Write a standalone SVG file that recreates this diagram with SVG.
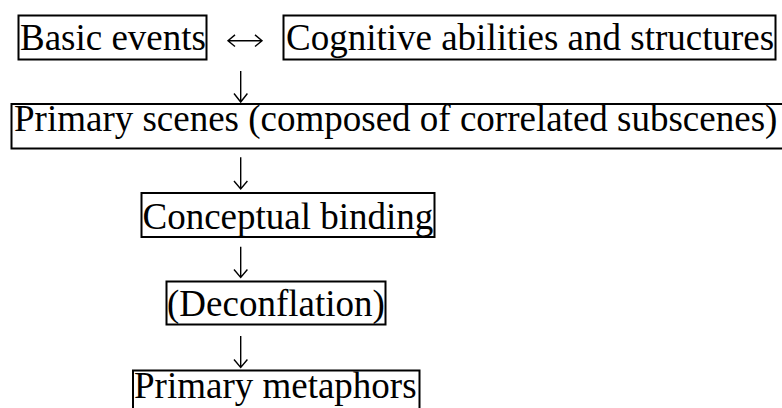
<svg xmlns="http://www.w3.org/2000/svg" width="782" height="408" viewBox="0 0 782 408">
<style>
.box{fill:none;stroke:#000;stroke-width:2}
.lbl{font-family:"Liberation Serif","Times New Roman",serif;font-size:37px;fill:#000}
.conn{fill:none;stroke:#000;stroke-width:1.4;stroke-linecap:butt;stroke-linejoin:miter}
</style>
<rect width="782" height="408" fill="#fff"/>
<g id="node-basic-events">
<rect class="box" x="18.5" y="15.5" width="188" height="44"/>
<text class="lbl" x="20" y="49.5">Basic events</text>
</g>
<g id="node-cognitive">
<rect class="box" x="283.5" y="15.5" width="492" height="44"/>
<text class="lbl" x="286" y="49.5">Cognitive abilities and structures</text>
</g>
<g id="node-primary-scenes">
<rect class="box" x="11.5" y="104" width="790" height="44.5"/>
<text class="lbl" x="14" y="131">Primary scenes (composed of correlated subscenes)</text>
</g>
<g id="node-conceptual-binding">
<rect class="box" x="141.5" y="193" width="293" height="44"/>
<text class="lbl" x="142.5" y="228.5">Conceptual binding</text>
</g>
<g id="node-deconflation">
<rect class="box" x="166.5" y="281.5" width="219" height="43"/>
<text class="lbl" x="167" y="315.5">(Deconflation)</text>
</g>
<g id="node-primary-metaphors">
<rect class="box" x="133" y="370.5" width="286.5" height="50"/>
<text class="lbl" x="134" y="398">Primary metaphors</text>
</g>
<g id="connectors">
<path class="conn" d="M228 40.7H262M235 34.9L228 40.7L235 46.5M255 34.9L262 40.7L255 46.5"/>
<path class="conn" d="M240.7 71V102M234 93.5L240.7 102L247.4 93.5"/>
<path class="conn" d="M240.7 157.3V189M234 181L240.7 189L247.4 181"/>
<path class="conn" d="M240.7 246.7V277.5M234 269.5L240.7 277.5L247.4 269.5"/>
<path class="conn" d="M240.7 336V367.5M234 359.5L240.7 367.5L247.4 359.5"/>
</g>
</svg>
